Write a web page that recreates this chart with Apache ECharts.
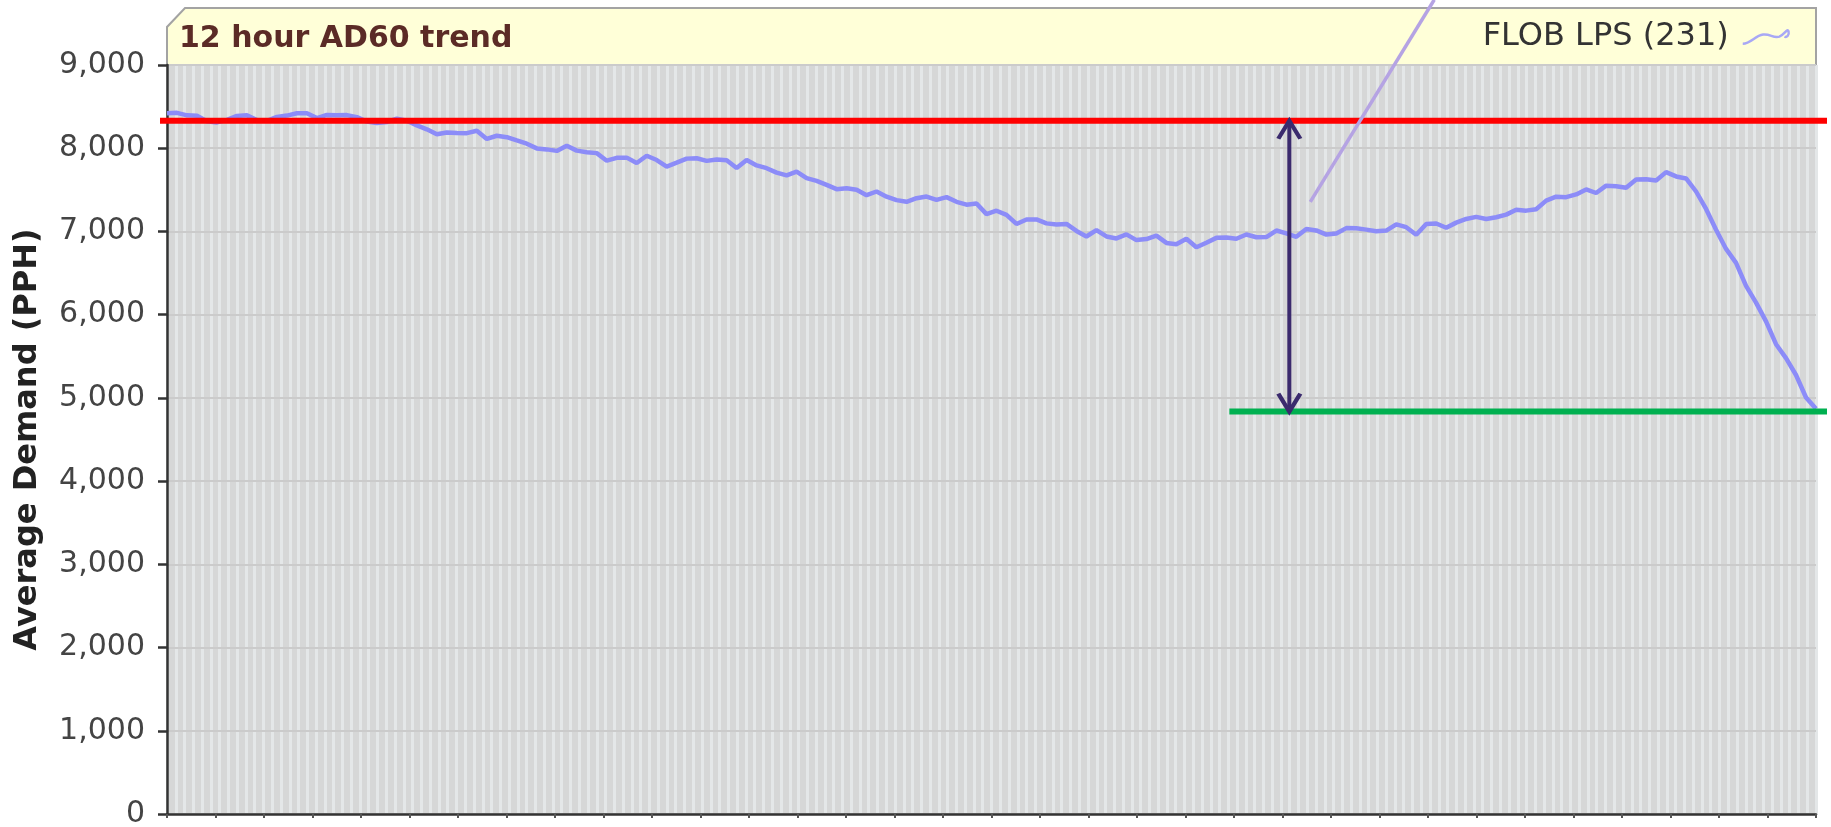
<!DOCTYPE html>
<html>
<head>
<meta charset="utf-8">
<title>12 hour AD60 trend</title>
<script src="https://cdn.jsdelivr.net/npm/echarts@6/dist/echarts.min.js"></script>
<style>
html, body { margin: 0; padding: 0; background: #fff; }
#chart { width: 1831px; height: 827px; }
</style>
</head>
<body>
<div id="chart"></div>
<script>
// AD60 readings over the 12 hours, one per sample
var demand = [
	8420, 8425, 8395, 8390, 8325, 8310, 8341, 8388, 8395, 8340,
	8330, 8376, 8392, 8420, 8420, 8362, 8400, 8395, 8398, 8373,
	8320, 8302, 8315, 8355, 8330, 8275, 8227, 8167, 8189, 8183,
	8181, 8210, 8111, 8150, 8133, 8093, 8054, 7998, 7986, 7968,
	8030, 7971, 7952, 7941, 7850, 7885, 7887, 7823, 7910, 7858,
	7780, 7826, 7875, 7880, 7848, 7865, 7856, 7762, 7858, 7793,
	7760, 7707, 7673, 7718, 7640, 7608, 7560, 7508, 7518, 7502,
	7436, 7480, 7418, 7376, 7356, 7400, 7419, 7380, 7412, 7356,
	7322, 7336, 7208, 7249, 7200, 7090, 7143, 7145, 7097, 7084,
	7090, 7006, 6939, 7015, 6940, 6916, 6965, 6896, 6908, 6950,
	6862, 6846, 6913, 6810, 6865, 6923, 6927, 6912, 6963, 6930,
	6933, 7011, 6977, 6935, 7030, 7012, 6962, 6975, 7040, 7038,
	7022, 7003, 7010, 7085, 7051, 6960, 7090, 7096, 7045, 7106,
	7150, 7175, 7149, 7170, 7202, 7260, 7250, 7266, 7370, 7418,
	7412, 7445, 7505, 7462, 7550, 7543, 7525, 7624, 7628, 7612,
	7713, 7661, 7637, 7480, 7270, 7020, 6790, 6622, 6346, 6145,
	5920, 5645, 5478, 5275, 5005, 4870
];
var seriesName = 'FLOB LPS (231)';

// y axis
var yMin = 0;
var yMax = 9000;
var yStep = 1000;

// hand drawn marks on top of the chart (x in sample index, y in PPH)
var upperLevel = 8330;
var lowerLevel = 4835;
var upperSpan = [-0.7, 166.1];
var lowerSpan = [106.3, 166.1];
var arrowAt = 112.3;
var pointer = [[114.4, 7356], [126.8, 9784]];

// background stripe and bottom tick counts
var stripeCount = 188;
var tickCount = 35;

var samples = demand.map(function (v, i) { return i; });
var stripes = [];
for (var s = 0; s < stripeCount; s++) stripes.push(s);
var ticks = [];
for (var t = 0; t < tickCount; t++) ticks.push(t);

// a flat level line, drawn with the library's coords but not clamped to the grid
function levelSeries(name, span, level, color) {
	return {
		name: name,
		type: 'custom',
		xAxisIndex: 3,
		clip: false,
		silent: true,
		z: 5,
		encode: { x: [0, 1], y: 2 },
		data: [[span[0], span[1], level]],
		renderItem: function (params, api) {
			var a = api.coord([api.value(0), api.value(2)]);
			var b = api.coord([api.value(1), api.value(2)]);
			return {
				type: 'line',
				shape: { x1: a[0], y1: a[1], x2: b[0], y2: b[1] },
				style: { stroke: color, lineWidth: 6 }
			};
		}
	};
}

var chart = echarts.init(document.getElementById('chart'));

var option = {
	animation: false,
	backgroundColor: '#ffffff',
	graphic: [
		{
			type: 'polygon',
			z: 0,
			shape: { points: [[167, 65], [167, 27], [185, 8], [1816, 8], [1816, 65]] },
			style: { fill: '#ffffd8', stroke: '#a3a3a3', lineWidth: 2 }
		}
	],
	title: {
		text: '12 hour AD60 trend',
		left: 179,
		top: 24,
		padding: 0,
		textStyle: {
			fontFamily: 'DejaVu Sans',
			fontWeight: 'bold',
			fontSize: 30,
			color: '#5b2b26'
		}
	},
	legend: {
		right: 41,
		top: 21,
		padding: 0,
		align: 'right',
		selectedMode: false,
		itemWidth: 46,
		itemHeight: 20,
		data: [{
			name: seriesName,
			icon: 'path://M0,16 C8,16 12,8 20,7 C27,6 30,11 36,9 C41,7 44,0 45,4 C46,8 43,10 41,9',
			itemStyle: { color: 'transparent', borderColor: '#a8a8f5', borderWidth: 2.5 }
		}],
		textStyle: {
			fontFamily: 'DejaVu Sans',
			fontSize: 32,
			color: '#333333',
			padding: [0, 9, 0, 0]
		}
	},
	grid: {
		left: 167,
		right: 15,
		top: 65,
		bottom: 13,
		outerBoundsMode: 'none',
		show: true,
		backgroundColor: '#d6d7d7',
		borderColor: '#9a9a9a',
		borderWidth: 2
	},
	xAxis: [
		{
			type: 'category',
			position: 'bottom',
			data: samples,
			boundaryGap: false,
			z: 3,
			axisLine: { show: true, lineStyle: { color: '#333333', width: 2.5 } },
			axisTick: { show: false },
			axisLabel: { show: false },
			splitLine: { show: false }
		},
		{
			type: 'category',
			position: 'bottom',
			data: stripes,
			boundaryGap: true,
			z: 0,
			axisLine: { show: false },
			axisTick: { show: false },
			axisLabel: { show: false },
			splitLine: { show: true, interval: 0, lineStyle: { color: '#e4e7e8', width: 3 } }
		},
		{
			type: 'category',
			position: 'bottom',
			data: ticks,
			boundaryGap: false,
			z: 3,
			axisLine: { show: false },
			axisLabel: { show: false },
			axisTick: { show: true, interval: 0, length: 4, lineStyle: { color: '#555555', width: 2 } },
			splitLine: { show: false }
		},
		{
			type: 'value',
			position: 'bottom',
			show: false,
			min: 0,
			max: demand.length - 1
		}
	],
	yAxis: {
		type: 'value',
		min: yMin,
		max: yMax,
		interval: yStep,
		z: 2,
		name: 'Average Demand (PPH)',
		nameLocation: 'middle',
		nameGap: 123,
		nameTextStyle: {
			fontFamily: 'DejaVu Sans',
			fontWeight: 'bold',
			fontSize: 32,
			color: '#222222'
		},
		axisLine: { show: true, lineStyle: { color: '#333333', width: 2.5 } },
		axisTick: { show: true, length: 9, lineStyle: { color: '#333333', width: 2.5 } },
		axisLabel: {
			margin: 22,
			fontFamily: 'DejaVu Sans',
			fontSize: 30,
			color: '#444444',
			formatter: function (v) { return v.toLocaleString('en-US'); }
		},
		splitLine: { show: true, lineStyle: { color: '#cbcbcb', width: 2 } }
	},
	series: [
		{
			name: seriesName,
			type: 'line',
			xAxisIndex: 0,
			data: demand,
			symbol: 'none',
			z: 3,
			lineStyle: { color: '#8c8cf8', width: 4.5 },
			itemStyle: { color: '#8c8cf8' }
		},
		levelSeries('upper', upperSpan, upperLevel, '#ff0000'),
		levelSeries('lower', lowerSpan, lowerLevel, '#00b050'),
		{
			name: 'pointer',
			type: 'line',
			xAxisIndex: 3,
			clip: false,
			silent: true,
			symbol: 'none',
			z: 5,
			data: pointer,
			lineStyle: { color: '#b5a3e3', width: 3.5 }
		},
		{
			name: 'gap',
			type: 'line',
			xAxisIndex: 3,
			clip: false,
			silent: true,
			z: 6,
			symbol: 'path://M0,18 L12,0 L24,18',
			symbolSize: [22, 18],
			showSymbol: true,
			itemStyle: { color: 'transparent', borderColor: '#3b2b6e', borderWidth: 4 },
			lineStyle: { color: '#3b2b6e', width: 4 },
			data: [
				{ value: [arrowAt, upperLevel], symbolRotate: 0, symbolOffset: [0, 9] },
				{ value: [arrowAt, lowerLevel], symbolRotate: 180, symbolOffset: [0, -9] }
			]
		}
	]
};

chart.setOption(option);
</script>
</body>
</html>
